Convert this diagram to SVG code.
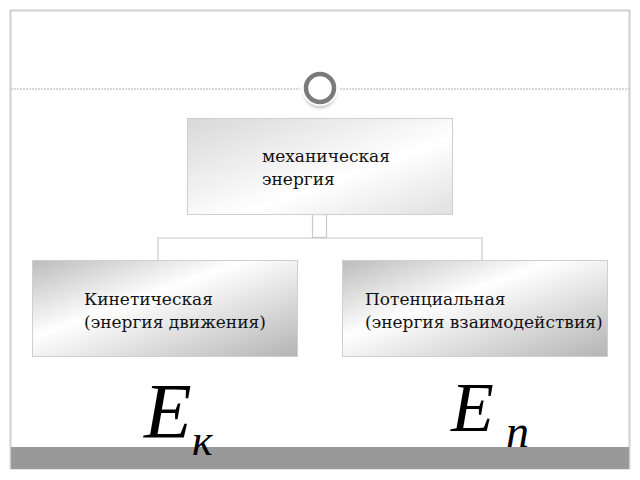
<svg xmlns="http://www.w3.org/2000/svg" width="640" height="480" viewBox="0 0 640 480">
  <defs>
    <linearGradient id="gTop" x1="0" y1="0" x2="1" y2="1">
      <stop offset="0" stop-color="#d8d8d8"/>
      <stop offset="0.6" stop-color="#ffffff"/>
      <stop offset="1" stop-color="#e0e0e0"/>
    </linearGradient>
    <linearGradient id="gBox" x1="0" y1="0" x2="1" y2="1">
      <stop offset="0" stop-color="#bcbcbc"/>
      <stop offset="0.4" stop-color="#ffffff"/>
      <stop offset="1" stop-color="#b4b4b4"/>
    </linearGradient>
    <radialGradient id="gShadow" cx="0.5" cy="0.5" r="0.5">
      <stop offset="0.75" stop-color="#d0d0d0"/>
      <stop offset="1" stop-color="#ffffff" stop-opacity="0"/>
    </radialGradient>
  </defs>
  <style>
    .box{stroke:#cfcfcf;stroke-width:1}
    .lbl{font-family:"DejaVu Serif","Liberation Serif",serif;font-size:17px;fill:#111}
    .conn{fill:none;stroke:#c8c8c8;stroke-width:1.2}
    .math{font-family:"Liberation Serif","Times New Roman",serif;font-style:italic;fill:#000}
  </style>
  <rect x="0" y="0" width="640" height="480" fill="#ffffff"/>
  <rect x="10.5" y="10.5" width="619" height="458" fill="#ffffff" stroke="#cfcfcf" stroke-width="2"/>
  <line x1="11" y1="89" x2="300" y2="89" stroke="#b0b0b0" stroke-width="1" stroke-dasharray="2,1"/>
  <line x1="340" y1="89" x2="629" y2="89" stroke="#b0b0b0" stroke-width="1" stroke-dasharray="2,1"/>
  <g id="ornament">
    <circle cx="320" cy="92" r="20" fill="url(#gShadow)"/>
    <circle cx="320" cy="88" r="18" fill="#ffffff"/>
    <circle cx="320" cy="88" r="14" fill="#ffffff" stroke="#7a7a7a" stroke-width="4.5"/>
  </g>
  <g id="connectors">
    <rect x="312.5" y="214.5" width="14" height="23" class="conn"/>
    <polyline points="158,260 158,238 482,238 482,260" class="conn"/>
  </g>
  <g id="node-top">
    <rect x="187.5" y="118.5" width="265" height="96" fill="url(#gTop)" class="box"/>
    <text class="lbl" x="262" y="162">механическая</text>
    <text class="lbl" x="262" y="185">энергия</text>
  </g>
  <g id="node-kinetic">
    <rect x="32.5" y="260.5" width="265" height="96" fill="url(#gBox)" class="box"/>
    <text class="lbl" x="84" y="305">Кинетическая</text>
    <text class="lbl" x="84" y="328">(энергия движения)</text>
  </g>
  <g id="node-potential">
    <rect x="342.5" y="260.5" width="265" height="96" fill="url(#gBox)" class="box"/>
    <text class="lbl" x="365" y="305">Потенциальная</text>
    <text class="lbl" x="365" y="328">(энергия взаимодействия)</text>
  </g>
  <rect x="11" y="447" width="618" height="22" fill="#999999"/>
  <g id="formula-k">
    <text class="math" x="144" y="437" font-size="78">E</text>
    <text class="math" x="192" y="455" font-size="44">к</text>
  </g>
  <g id="formula-p">
    <text class="math" x="451" y="431" font-size="70">E</text>
    <text class="math" x="506" y="447" font-size="46">n</text>
  </g>
</svg>
